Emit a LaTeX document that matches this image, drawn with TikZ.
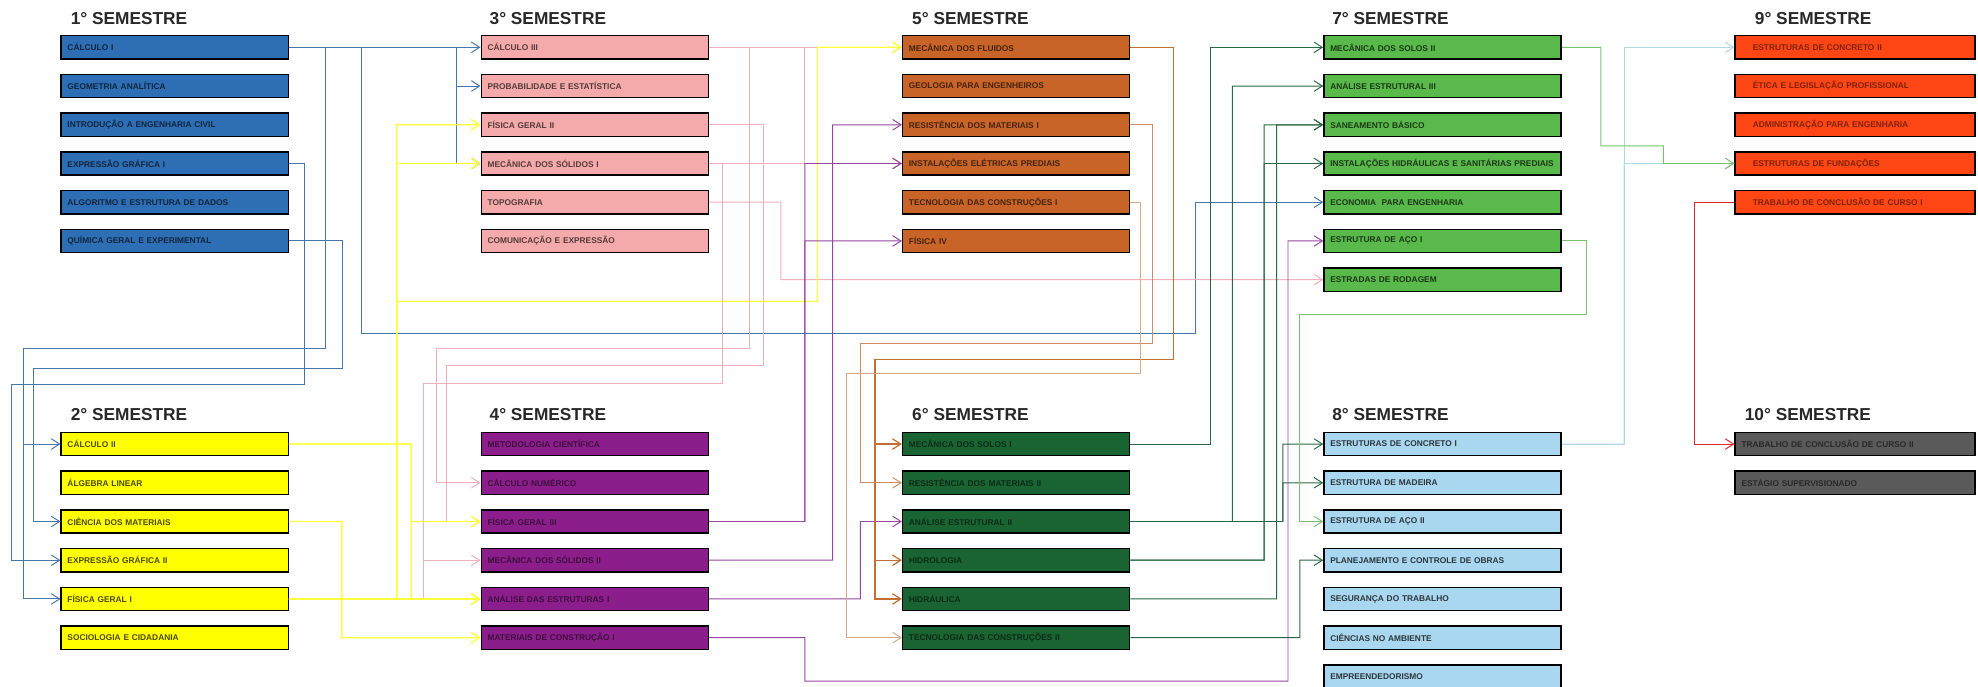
\documentclass[tikz,border=0pt]{standalone}
\usepackage{fontspec}
\setmainfont{Liberation Sans}
\usetikzlibrary{arrows.meta}

\definecolor{fillA}{RGB}{46,110,180}
\definecolor{fillB}{RGB}{255,255,0}
\definecolor{fillC}{RGB}{244,170,170}
\definecolor{fillD}{RGB}{140,30,140}
\definecolor{fillE}{RGB}{200,100,40}
\definecolor{fillF}{RGB}{25,100,50}
\definecolor{fillG}{RGB}{90,185,75}
\definecolor{fillH}{RGB}{170,215,240}
\definecolor{fillI}{RGB}{255,70,20}
\definecolor{fillJ}{RGB}{90,90,90}
\definecolor{headcol}{RGB}{40,40,40}
\definecolor{lnblue}{RGB}{70,120,175}
\definecolor{lnyellow}{RGB}{255,255,60}
\definecolor{lnpink}{RGB}{240,175,185}
\definecolor{lnpurple}{RGB}{150,70,160}
\definecolor{lnorange}{RGB}{195,110,50}
\definecolor{lnorangeb}{RGB}{210,140,100}
\definecolor{lntan}{RGB}{215,170,140}
\definecolor{lngreen}{RGB}{40,105,65}
\definecolor{lnlight}{RGB}{120,195,110}
\definecolor{lnsky}{RGB}{175,215,235}
\definecolor{lnred}{RGB}{220,40,40}

\tikzstyle{head} = [anchor=west, inner sep=0pt, text=headcol, font=\fontsize{19.5}{22}\selectfont\bfseries]
\tikzstyle{blk} = [rectangle, draw=black, line width=1.6pt, minimum height=0.92cm, text width=8.5cm, inner xsep=0.25cm, align=left, font=\fontsize{9.4}{11}\selectfont\bfseries]
\tikzstyle{block1} = [blk, fill=fillA, text=fillA!35!black]
\tikzstyle{block2} = [blk, fill=fillB, text=fillB!30!black]
\tikzstyle{block3} = [blk, fill=fillC, text=fillC!35!black]
\tikzstyle{block4} = [blk, fill=fillD, text=fillD!45!black]
\tikzstyle{block5} = [blk, fill=fillE, text=fillE!35!black]
\tikzstyle{block6} = [blk, fill=fillF, text=fillF!45!black]
\tikzstyle{block7} = [blk, text width=8.9cm, fill=fillG, text=fillG!30!black]
\tikzstyle{block8} = [blk, text width=8.9cm, fill=fillH, text=fillH!25!black]
\tikzstyle{block9} = [blk, text width=8.1cm, inner xsep=0.7cm, fill=fillI, text=fillI!50!black]
\tikzstyle{block10} = [blk, text width=9cm, fill=fillJ, text=fillJ!45!black]
\tikzstyle{line} = [draw, ->, >={Straight Barb[length=3.3mm,width=4.2mm]}, line width=1.1pt]
\tikzstyle{lineb} = [line, draw=lnblue]
\tikzstyle{liney} = [line, draw=lnyellow, line width=1.5pt]
\tikzstyle{linep} = [line, draw=lnpink]
\tikzstyle{lineu} = [line, draw=lnpurple]
\tikzstyle{lineo} = [line, draw=lnorange, line width=1.4pt]
\tikzstyle{lineo2} = [line, draw=lnorangeb]
\tikzstyle{lineo3} = [line, draw=lntan]
\tikzstyle{lineg} = [line, draw=lngreen]
\tikzstyle{linel} = [line, draw=lnlight]
\tikzstyle{linek} = [line, draw=lnsky]
\tikzstyle{liner} = [line, draw=lnred]

\begin{document}
\begin{tikzpicture}[x=0.05cm, y=-0.05cm, node distance=1.535cm]
\useasboundingbox (0,0) rectangle (1568,544);

% 1o semestre
\node [head] (h1) at (56,14.5) {1° SEMESTRE};
\node [block1] (calcI) at (138.5,37.5) {CÁLCULO I};
\node [block1, below of=calcI] (geoan) {GEOMETRIA ANALÍTICA};
\node [block1, below of=geoan] (introeng) {INTRODUÇÃO A ENGENHARIA CIVIL};
\node [block1, below of=introeng] (expgrafI) {EXPRESSÃO GRÁFICA I};
\node [block1, below of=expgrafI] (algor) {ALGORITMO E ESTRUTURA DE DADOS};
\node [block1, below of=algor] (quimica) {QUÍMICA GERAL E EXPERIMENTAL};

% 2o semestre
\node [head] (h2) at (56,328.7) {2° SEMESTRE};
\node [block2] (calcII) at (138.5,352) {CÁLCULO II};
\node [block2, below of=calcII] (algebra) {ÁLGEBRA LINEAR};
\node [block2, below of=algebra] (cienmat) {CIÊNCIA DOS MATERIAIS};
\node [block2, below of=cienmat] (expgrafII) {EXPRESSÃO GRÁFICA II};
\node [block2, below of=expgrafII] (fisI) {FÍSICA GERAL I};
\node [block2, below of=fisI] (socio) {SOCIOLOGIA E CIDADANIA};

% 3o semestre
\node [head] (h3) at (388,14.5) {3° SEMESTRE};
\node [block3] (calcIII) at (471.5,37.5) {CÁLCULO III};
\node [block3, below of=calcIII] (probest) {PROBABILIDADE E ESTATÍSTICA};
\node [block3, below of=probest] (fisII) {FÍSICA GERAL II};
\node [block3, below of=fisII] (mecsolI) {MECÂNICA DOS SÓLIDOS I};
\node [block3, below of=mecsolI] (topo) {TOPOGRAFIA};
\node [block3, below of=topo] (comexp) {COMUNICAÇÃO E EXPRESSÃO};

% 4o semestre
\node [head] (h4) at (388,328.7) {4° SEMESTRE};
\node [block4] (metod) at (471.5,352) {METODOLOGIA CIENTÍFICA};
\node [block4, below of=metod] (calcnum) {CÁLCULO NUMÉRICO};
\node [block4, below of=calcnum] (fisIII) {FÍSICA GERAL III};
\node [block4, below of=fisIII] (mecsolII) {MECÂNICA DOS SÓLIDOS II};
\node [block4, below of=mecsolII] (anaestI) {ANÁLISE DAS ESTRUTURAS I};
\node [block4, below of=anaestI] (matconsI) {MATERIAIS DE CONSTRUÇÃO I};

% 5o semestre
\node [head] (h5) at (723,14.5) {5° SEMESTRE};
\node [block5] (mecflu) at (805.5,37.5) {MECÂNICA DOS FLUIDOS};
\node [block5, below of=mecflu] (geol) {GEOLOGIA PARA ENGENHEIROS};
\node [block5, below of=geol] (resmatI) {RESISTÊNCIA DOS MATERIAIS I};
\node [block5, below of=resmatI] (insteletr) {INSTALAÇÕES ELÉTRICAS PREDIAIS};
\node [block5, below of=insteletr] (tecconsI) {TECNOLOGIA DAS CONSTRUÇÕES I};
\node [block5, below of=tecconsI] (fisIV) {FÍSICA IV};

% 6o semestre
\node [head] (h6) at (723,328.7) {6° SEMESTRE};
\node [block6] (mecsoloI) at (805.5,352) {MECÂNICA DOS SOLOS I};
\node [block6, below of=mecsoloI] (resmatII) {RESISTÊNCIA DOS MATERIAIS II};
\node [block6, below of=resmatII] (anaestrII) {ANÁLISE ESTRUTURAL II};
\node [block6, below of=anaestrII] (hidrol) {HIDROLOGIA};
\node [block6, below of=hidrol] (hidraul) {HIDRÁULICA};
\node [block6, below of=hidraul] (tecconsII) {TECNOLOGIA DAS CONSTRUÇÕES II};

% 7o semestre
\node [head] (h7) at (1056,14.5) {7° SEMESTRE};
\node [block7] (mecsoloII) at (1143.5,37.5) {MECÂNICA DOS SOLOS II};
\node [block7, below of=mecsoloII] (anaestrIII) {ANÁLISE ESTRUTURAL III};
\node [block7, below of=anaestrIII] (saneam) {SANEAMENTO BÁSICO};
\node [block7, below of=saneam] (insthidr) {INSTALAÇÕES HIDRÁULICAS E SANITÁRIAS PREDIAIS};
\node [block7, below of=insthidr] (econ) {ECONOMIA~ PARA ENGENHARIA};
\node [block7, below of=econ] (acoI) {ESTRUTURA DE AÇO I};
\node [block7, below of=acoI] (estradas) {ESTRADAS DE RODAGEM};

% 8o semestre
\node [head] (h8) at (1056,328.7) {8° SEMESTRE};
\node [block8] (concI) at (1143.5,352) {ESTRUTURAS DE CONCRETO I};
\node [block8, below of=concI] (madeira) {ESTRUTURA DE MADEIRA};
\node [block8, below of=madeira] (acoII) {ESTRUTURA DE AÇO II};
\node [block8, below of=acoII] (planej) {PLANEJAMENTO E CONTROLE DE OBRAS};
\node [block8, below of=planej] (seguranca) {SEGURANÇA DO TRABALHO};
\node [block8, below of=seguranca] (ciencamb) {CIÊNCIAS NO AMBIENTE};
\node [block8, below of=ciencamb] (empreend) {EMPREENDEDORISMO};

% 9o semestre
\node [head] (h9) at (1391,14.5) {9° SEMESTRE};
\node [block9] (concII) at (1470.5,37.5) {ESTRUTURAS DE CONCRETO II};
\node [block9, below of=concII] (etica) {ÉTICA E LEGISLAÇÃO PROFISSIONAL};
\node [block9, below of=etica] (admin) {ADMINISTRAÇÃO PARA ENGENHARIA};
\node [block9, below of=admin] (fundac) {ESTRUTURAS DE FUNDAÇÕES};
\node [block9, below of=fundac] (tccI) {TRABALHO DE CONCLUSÃO DE CURSO I};

% 10o semestre
\node [head] (h10) at (1383,328.7) {10° SEMESTRE};
\node [block10] (tccII) at (1470.5,352) {TRABALHO DE CONCLUSÃO DE CURSO II};
\node [block10, below of=tccII] (estagio) {ESTÁGIO SUPERVISIONADO};

% pre-requisitos
\path [lineb] (calcI.east) -- (calcIII.west);
\path [lineb] (calcI.east) -- (362,37.5) |- (probest.west);
\path [lineb] (calcI.east) -- (362,37.5) |- (mecsolI.west);
\path [lineb] (calcI.east) -| (258.4,276) -- (18.3,276) |- (calcII.west);
\path [lineb] (calcI.east) -| (258.4,276) -- (18.3,276) |- (fisI.west);
\path [lineb] (calcI.east) -| (286.7,264) -- (947.3,264) |- (econ.west);
\path [lineb] (expgrafI.east) -| (241,305) -- (9.3,305) |- (expgrafII.west);
\path [lineb] (quimica.east) -| (271.6,292) -- (26.7,292) |- (cienmat.west);

\path [linep] (calcIII.east) -- (mecflu.west);
\path [linep] (calcIII.east) -- (638,37.5) |- (insteletr.west);
\path [linep] (mecsolI.east) -- (insteletr.west);
\path [linep] (calcIII.east) -| (594,276) -- (346,276) |- (calcnum.west);
\path [linep] (fisII.east) -| (605.6,290) -- (354,290) |- (fisIII.west);
\path [linep] (mecsolI.east) -| (573,303.7) -- (336,303.7) |- (mecsolII.west);
\path [linep] (mecsolI.east) -| (573,303.7) -- (336,303.7) |- (anaestI.west);
\path [linep] (topo.east) -| (619,221.7) -- (estradas.west);

\path [liney] (fisI.east) -- (anaestI.west);
\path [liney] (fisI.east) -- (314.5,474.8) |- (fisII.west);
\path [liney] (fisI.east) -- (314.5,474.8) |- (mecsolI.west);
\path [liney] (fisI.east) -- (314.5,474.8) |- (648,239) |- (mecflu.west);
\path [liney] (calcII.east) -| (326,413.4) -- (fisIII.west);
\path [liney] (calcII.east) -| (326,474.8) -- (anaestI.west);
\path [liney] (cienmat.east) -| (271,505.5) -- (matconsI.west);

\path [lineu] (fisIII.east) -- (638,413.4) |- (insteletr.west);
\path [lineu] (fisIII.east) -- (638,413.4) |- (fisIV.west);
\path [lineu] (mecsolII.east) -- (660,444.1) |- (resmatI.west);
\path [lineu] (anaestI.east) -- (682,474.8) |- (anaestrII.west);
\path [lineu] (matconsI.east) -- (638,505.5) |- (1021,540) |- (acoI.west);

\path [lineo] (mecflu.east) -| (930,285) -- (693.6,285) |- (mecsoloI.west);
\path [lineo] (mecflu.east) -| (930,285) -- (693.6,285) |- (hidrol.west);
\path [lineo] (mecflu.east) -| (930,285) -- (693.6,285) |- (hidraul.west);
\path [lineo2] (resmatI.east) -| (913.7,272) -- (682,272) |- (resmatII.west);
\path [lineo3] (tecconsI.east) -| (903.7,296) -- (671,296) |- (tecconsII.west);

\path [lineg] (mecsoloI.east) -- (959.7,352) |- (mecsoloII.west);
\path [lineg] (anaestrII.east) -- (977,413.4) |- (anaestrIII.west);
\path [lineg] (anaestrII.east) -- (1017,413.4) |- (concI.west);
\path [lineg] (anaestrII.east) -- (1017,413.4) |- (madeira.west);
\path [lineg] (hidrol.east) -- (1002,444.1) |- (saneam.west);
\path [lineg] (hidrol.east) -- (1002,444.1) |- (insthidr.west);
\path [lineg] (hidraul.east) -- (1012,474.8) |- (saneam.west);
\path [lineg] (tecconsII.east) -- (1030.5,505.5) |- (planej.west);

\path [linek] (concI.east) -| (1287.4,37.5) -- (concII.west);
\path [linek] (concI.east) -| (1287.4,129.6) -- (fundac.west);

\path [linel] (mecsoloII.east) -| (1269,115.7) -| (1318.5,129.6) -- (fundac.west);
\path [linel] (acoI.east) -| (1257.8,249) -- (1030.5,249) |- (acoII.west);

\path [liner] (tccI.west) -| (1343,352) -- (tccII.west);

\end{tikzpicture}
\end{document}
